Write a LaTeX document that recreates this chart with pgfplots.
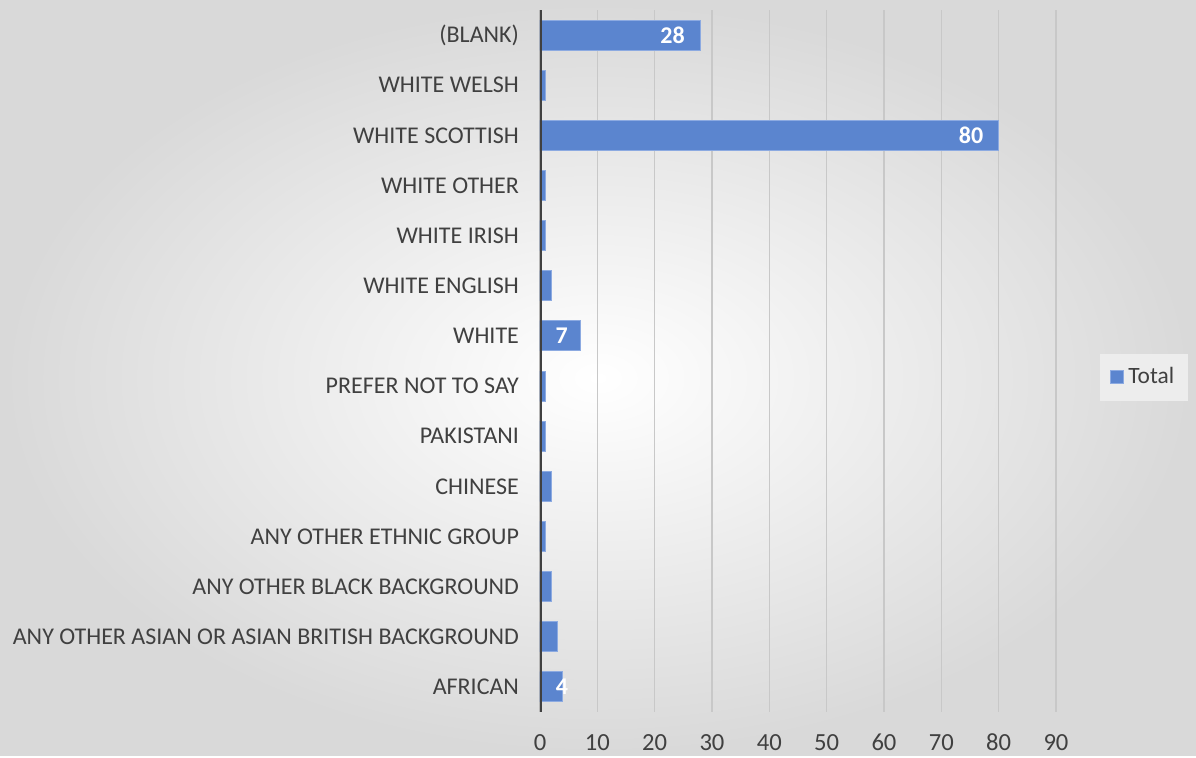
\documentclass[border=0pt]{standalone}
\usepackage{pgfplots}
\pgfplotsset{compat=1.18}
\usepackage{pgfplotstable}
\usepackage{fontspec}
\setmainfont{Carlito}
\definecolor{barblue}{RGB}{91,133,207}
\definecolor{baredge}{RGB}{140,170,225}
\definecolor{txt}{RGB}{64,64,64}
\definecolor{gridc}{RGB}{200,200,200}
\pgfplotstableread[col sep=comma]{
y,val,lab,sh
0,4,4,-0.5
1,3,{},0
2,2,{},0
3,1,{},0
4,2,{},0
5,1,{},0
6,1,{},0
7,7,7,-9.25
8,2,{},0
9,1,{},0
10,1,{},0
11,80,80,-13.8
12,1,{},0
13,28,28,-14
}\datatab
\begin{document}
\begin{tikzpicture}[x=1pt,y=1pt]
\shade[inner color=white, outer color=gray!30] (0,0) rectangle (598,378);
\begin{axis}[
  at={(270pt,22pt)}, anchor=south west,
  width=258pt, height=351pt, scale only axis,
  xbar, bar width=15pt,
  xmin=0, xmax=90, ymin=-0.5, ymax=13.5,
  xtick={0,10,...,90},
  ytick={0,...,13},
  yticklabels={AFRICAN,ANY OTHER ASIAN OR ASIAN BRITISH BACKGROUND,ANY OTHER BLACK BACKGROUND,ANY OTHER ETHNIC GROUP,CHINESE,PAKISTANI,PREFER NOT TO SAY,WHITE,WHITE ENGLISH,WHITE IRISH,WHITE OTHER,WHITE SCOTTISH,WHITE WELSH,(BLANK)},
  major tick length=0pt,
  xmajorgrids, major grid style={gridc, line width=0.8pt},
  axis line style={draw=none},
  /pgf/number format/assume math mode=true,
  tick label style={font=\fontsize{12pt}{14pt}\selectfont, text=txt},
  xticklabel style={font=\fontsize{12.3pt}{14pt}\selectfont, yshift=-7.5pt},
  yticklabel style={xshift=-7pt},
  legend style={at={(1.171,0.477)}, anchor=center, fill=black!7, draw=none,
     font=\fontsize{11.7pt}{13pt}\selectfont, text=txt, inner sep=5pt},
  legend image code/.code={\draw[fill=barblue, draw=baredge] (0cm,-0.115cm) rectangle (0.23cm,0.115cm);},
  visualization depends on={\thisrow{sh} \as \labshift},
  nodes near coords={\pgfplotspointmeta},
  point meta=explicit symbolic,
  nodes near coords style={anchor=center, xshift=\labshift pt, text=white, font=\bfseries\fontsize{12pt}{14pt}\selectfont},
]
\addplot[fill=barblue, draw=baredge, line width=0.5pt] table[x=val, y=y, meta=lab] {\datatab};
\addlegendentry{Total}
\draw[color=txt, line width=2.2pt] (axis cs:0,-0.5) -- (axis cs:0,13.5);
\end{axis}
\end{tikzpicture}
\end{document}
